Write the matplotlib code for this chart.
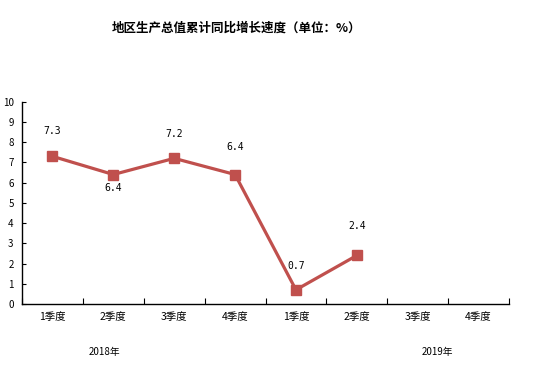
import matplotlib
matplotlib.use("Agg")
import matplotlib.pyplot as plt

plt.rcParams['font.family'] = ['Noto Sans CJK SC', 'DejaVu Sans']

categories = ["1季度", "2季度", "3季度", "4季度", "1季度", "2季度", "3季度", "4季度"]
values = [7.3, 6.4, 7.2, 6.4, 0.7, 2.4]
labels = ["7.3", "6.4", "7.2", "6.4", "0.7", "2.4"]
label_offsets = [18, -10, 17.5, 19.5, 17, 21.5]
years = ["2018年", "2019年"]
title = "地区生产总值累计同比增长速度（单位：%）"

fig = plt.figure(figsize=(5.47, 3.73), dpi=100)
ax = fig.add_axes([22/547, 1-304/373, (509-22)/547, (304-101.7)/373])

color = "#C0504D"
xs = [i + 0.5 for i in range(len(values))]
ax.plot(xs, values, color=color, lw=2.3, marker="s", markersize=7,
        markerfacecolor=color, markeredgecolor=color)

for x, v, lab, off in zip(xs, values, labels, label_offsets):
    ax.annotate(lab, (x, v), xytext=(0, off), textcoords="offset points",
                ha="center", va="center", fontsize=7, family=["DejaVu Sans Mono"])

ax.set_xlim(0, len(categories))
ax.set_ylim(0, 10)
ax.set_yticks(range(0, 11))
ax.set_xticks(range(0, len(categories) + 1))
ax.set_xticklabels([])
ax.set_xticks([i + 0.5 for i in range(len(categories))], minor=True)
ax.set_xticklabels(categories, minor=True, fontsize=7.5)
ax.tick_params(axis="x", which="minor", length=0, pad=6)
ax.tick_params(axis="x", which="major", direction="in", length=4, width=0.8)
ax.tick_params(axis="y", direction="in", length=3, width=0.8, labelsize=7, pad=6)

for s in ["top", "right"]:
    ax.spines[s].set_visible(False)
for s in ["left", "bottom"]:
    ax.spines[s].set_linewidth(1.0)
    ax.spines[s].set_color("black")

fig.text(237/547, 1-28/373, title, ha="center", va="center", fontsize=9, fontweight="bold")
fig.text(104/547, 1-352/373, years[0], ha="center", va="center", fontsize=7)
fig.text(437/547, 1-352/373, years[1], ha="center", va="center", fontsize=7)

fig.savefig("out.png", dpi=100)
